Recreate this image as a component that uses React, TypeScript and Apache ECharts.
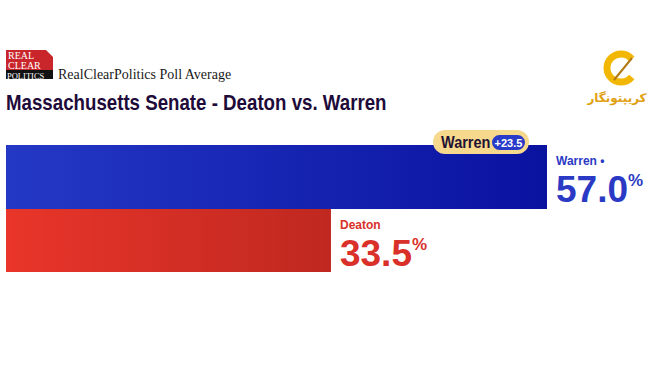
import React, { useEffect, useRef } from "react";
import * as echarts from "echarts";

const candidates = ["Warren", "Deaton"];
const values = [57.0, 33.5];
const leader = "Warren";
const sourceName = "RealClearPolitics Poll Average";
const titleText = "Massachusetts Senate - Deaton vs. Warren";
const watermarkText = "کریپتونگار";

const AXIS_MIN = -1.85;
const AXIS_MAX = 57;

const gradStops = [
  [
    { offset: 0, color: "#2438c6" },
    { offset: 1, color: "#0a12a0" },
  ],
  [
    { offset: 0, color: "#e9352a" },
    { offset: 1, color: "#bf2820" },
  ],
];
const textColors = ["#2a3ac4", "#d9302a"];
const NUM_FONT = "'Liberation Sans', Arial, Helvetica, sans-serif";

export default function App() {
  const ref = useRef<HTMLDivElement>(null);
  useEffect(() => {
    const chart = echarts.init(ref.current!, null, { renderer: "svg" });
    const margin = (values[0] - values[1]).toFixed(1);
    chart.setOption({
      animation: false,
      backgroundColor: "#ffffff",
      grid: { left: 6, right: 103, top: 145, height: 127 },
      xAxis: { type: "value", min: AXIS_MIN, max: AXIS_MAX, show: false },
      yAxis: { type: "category", data: candidates, inverse: true, show: false },
      series: [
        {
          type: "custom",
          z: 1,
          data: values.map((v, i) => [v, i]),
          encode: { x: 0, y: 1 },
          renderItem: (params: any, api: any) => {
            const i = params.dataIndex;
            const v = api.value(0);
            const start = api.coord([AXIS_MIN, i]);
            const end = api.coord([v, i]);
            const h = api.size([0, 1])[1];
            const top = Math.round(start[1] - h / 2);
            const bottom = Math.round(start[1] + h / 2);
            const c = textColors[i];
            return {
              type: "rect",
              shape: { x: start[0], y: top, width: end[0] - start[0], height: bottom - top },
              style: { fill: new echarts.graphic.LinearGradient(0, 0, 1, 0, gradStops[i]) },
              textContent: {
                style: {
                  text: `{n|${candidates[i]}${i === 0 ? " •" : ""}}\n{v|${v.toFixed(1)}}{p|%}`,
                  rich: {
                    n: { fontFamily: NUM_FONT, fontWeight: "bold", fontSize: 12, fill: c, lineHeight: 19, padding: [0, 0, 3, 0] },
                    v: { fontFamily: NUM_FONT, fontWeight: "bold", fontSize: 37, fill: c, lineHeight: 34 },
                    p: {
                      fontFamily: NUM_FONT, fontWeight: "bold", fontSize: 17, fill: c,
                      verticalAlign: "top", lineHeight: 34, padding: [0, 0, 12, 0],
                    },
                  },
                },
              },
              textConfig: {
                position: "right",
                distance: 9,
                offset: [0, i === 0 ? 2.5 : 3],
              },
            };
          },
        },
      ],
    });

    const end = chart.convertToPixel({ gridIndex: 0 }, [values[0], 0]) as number[];
    const bx = end[0] - 18 - 96;
    const by = 130;
    chart.setOption({
      graphic: [
        // logo
        { type: "rect", shape: { x: 6, y: 50, width: 47, height: 29 }, style: { fill: "#c8262b" } },
        { type: "rect", shape: { x: 6, y: 70, width: 47, height: 9 }, style: { fill: "#111111" } },
        { type: "polygon", shape: { points: [[46, 50], [53, 50], [53, 57]] }, style: { fill: "#ffffff" } },
        { type: "text", x: 8, y: 51, style: { text: "REAL\nCLEAR", lineHeight: 9.5, fill: "#ffffff", font: "10px 'Liberation Serif', serif" } },
        { type: "text", x: 7, y: 71, style: { text: "POLITICS", fill: "#ffffff", font: "8.5px 'Liberation Serif', serif" } },
        { type: "text", x: 58, y: 67, style: { text: sourceName, fill: "#1a1a1a", font: "14px 'Liberation Serif', serif" } },
        {
          type: "text", x: 6, y: 91, scaleX: 0.85,
          style: { text: titleText, fill: "#1e0b3a", font: "bold 22px 'Liberation Sans', Arial, sans-serif" },
        },
        // badge
        {
          type: "group", z: 100,
          children: [
            { type: "rect", z: 100, shape: { x: bx, y: by, width: 96, height: 24, r: 12 }, style: { fill: "#f6d98c" } },
            { type: "text", z: 101, x: bx + 8, y: by + 12.5, scaleX: 0.88, style: { text: leader, fill: "#1f1233", verticalAlign: "middle", font: "bold 16.5px 'Liberation Sans', Arial, sans-serif" } },
            { type: "rect", z: 101, shape: { x: bx + 59, y: by + 5, width: 33, height: 15, r: 7.5 }, style: { fill: "#2a3ac8" } },
            { type: "text", z: 102, x: bx + 75.5, y: by + 12.8, style: { text: `+${margin}`, fill: "#ffffff", align: "center", verticalAlign: "middle", font: "bold 11px 'Liberation Sans', Arial, sans-serif" } },
          ],
        },
        // watermark
        {
          type: "arc",
          shape: { cx: 621, cy: 68, r: 14, startAngle: Math.PI * 0.22, endAngle: Math.PI * 1.78, clockwise: true },
          style: { stroke: "#f2b705", lineWidth: 7, fill: "none" },
        },
        { type: "line", shape: { x1: 614, y1: 80, x2: 632, y2: 58 }, style: { stroke: "#b07a10", lineWidth: 2 } },
        { type: "text", x: 617, y: 98, style: { text: watermarkText, fill: "#e0a010", align: "center", verticalAlign: "middle", font: "bold 12px 'DejaVu Sans', sans-serif" } },
      ],
    });
    return () => chart.dispose();
  }, []);
  return <div ref={ref} style={{ width: 650, height: 365, position: "absolute", left: 0, top: 0 }} />;
}
